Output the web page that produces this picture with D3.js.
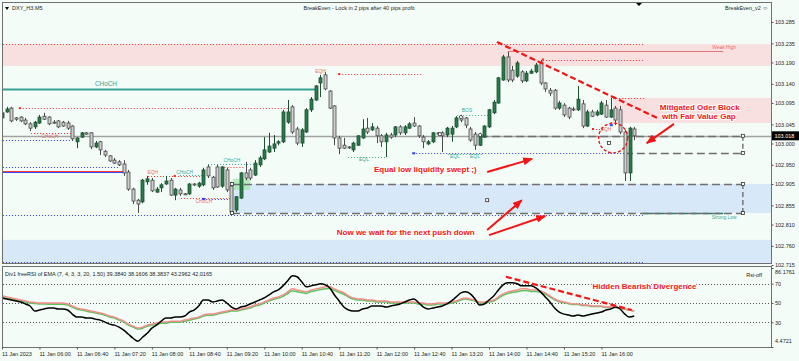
<!DOCTYPE html>
<html>
<head>
  <meta charset="utf-8">
  <title>DXY_H3.M5</title>
  <script src="https://d3js.org/d3.v7.min.js"></script>
<style type="text/css">
body {
  margin: 0;
  background: #f3fcf7;
}
svg text {
  font-family: "Liberation Sans", Arial, sans-serif;
}
.lbl { font-size: 5.5px; fill: #1e1e1e; }
.note {
  font-size: 8px;
  font-weight: bold;
  fill: #f41414;
  stroke: #ffffff;
  stroke-width: 2.2px;
  paint-order: stroke;
  stroke-linejoin: round;
}
</style>
</head>
<body>
<svg id="chart" width="799" height="361"></svg>
<script type="text/javascript">

// ---- DATA ----
const timeLabels = ["11 Jan 2023", "11 Jan 06:00", "11 Jan 06:40", "11 Jan 07:20", "11 Jan 08:00",
  "11 Jan 08:40", "11 Jan 09:20", "11 Jan 10:00", "11 Jan 10:40", "11 Jan 11:20", "11 Jan 12:00",
  "11 Jan 12:40", "11 Jan 13:20", "11 Jan 14:00", "11 Jan 14:40", "11 Jan 15:20", "11 Jan 16:00"];

const priceTicks = [103.285, 103.235, 103.190, 103.140, 103.095, 103.045, 103.000,
  102.950, 102.905, 102.855, 102.810, 102.760, 102.715];

const rsiTicks = [86.1761, 70, 50, 30, 4.4721];
const rsiLevels = [70, 50, 30];
const bid = 103.018;

// open, high, low, close (M5 bars from 05:20)
const ohlc = [
[103.060,103.076,103.055,103.072],[103.074,103.086,103.072,103.081],[103.083,103.086,103.050,103.053],
[103.060,103.062,103.053,103.057],[103.062,103.064,103.050,103.053],[103.055,103.060,103.043,103.046],
[103.046,103.050,103.029,103.036],[103.039,103.053,103.034,103.050],[103.048,103.067,103.046,103.062],
[103.064,103.072,103.055,103.057],[103.062,103.064,103.043,103.046],[103.050,103.055,103.046,103.049],
[103.053,103.055,103.036,103.039],[103.050,103.053,103.039,103.041],[103.048,103.053,103.032,103.036],
[103.041,103.043,103.006,103.011],[103.004,103.015,102.989,103.013],[103.015,103.027,103.013,103.025],
[103.025,103.027,103.020,103.022],[103.025,103.027,102.987,102.992],[102.992,103.006,102.989,103.001],
[103.004,103.006,102.973,102.985],[102.982,102.985,102.968,102.973],[102.971,102.973,102.957,102.959],
[102.961,102.966,102.952,102.954],[102.957,102.961,102.947,102.950],[102.952,102.961,102.924,102.931],
[102.933,102.938,102.889,102.893],[102.893,102.896,102.858,102.865],[102.867,102.870,102.837,102.858],
[102.863,102.917,102.860,102.914],[102.910,102.924,102.903,102.917],[102.914,102.919,102.886,102.889],
[102.886,102.898,102.884,102.893],[102.896,102.907,102.886,102.903],[102.905,102.924,102.903,102.912],
[102.914,102.919,102.877,102.879],[102.879,102.896,102.867,102.893],[102.891,102.896,102.877,102.882],
[102.882,102.884,102.879,102.881],[102.882,102.907,102.879,102.905],[102.905,102.907,102.900,102.904],
[102.900,102.910,102.896,102.907],[102.903,102.943,102.900,102.938],[102.945,102.950,102.919,102.924],
[102.921,102.924,102.891,102.896],[102.945,102.950,102.896,102.898],[102.900,102.947,102.896,102.945],
[102.938,102.943,102.886,102.891],[102.900,102.910,102.832,102.839],[102.844,102.877,102.839,102.875],
[102.872,102.933,102.870,102.931],[102.931,102.957,102.914,102.919],[102.938,102.943,102.914,102.919],
[102.926,102.961,102.924,102.954],[102.950,102.971,102.945,102.966],[102.964,103.015,102.961,102.985],
[102.980,103.025,102.978,102.994],[102.989,103.020,102.980,102.999],[103.001,103.008,102.996,103.004],
[103.004,103.079,103.001,103.074],[103.050,103.102,103.046,103.074],[103.086,103.090,103.022,103.027],
[103.034,103.039,102.996,103.001],[103.001,103.036,102.992,103.032],[103.027,103.083,103.025,103.079],
[103.079,103.109,103.074,103.104],[103.102,103.137,103.100,103.135],[103.142,103.161,103.109,103.154],
[103.161,103.168,103.125,103.128],[103.123,103.125,103.081,103.083],[103.088,103.090,102.996,103.013],
[103.013,103.018,102.975,102.989],[102.996,103.013,102.987,102.989],[102.992,102.994,102.987,102.990],
[102.985,103.004,102.980,103.001],[102.996,103.020,102.994,103.018],[103.013,103.057,103.011,103.034],
[103.036,103.060,103.022,103.027],[103.032,103.048,103.029,103.039],[103.036,103.041,103.001,103.018],
[103.018,103.022,102.992,103.004],[103.004,103.025,102.968,103.020],[103.020,103.025,103.011,103.015],
[103.020,103.041,103.015,103.039],[103.039,103.043,103.020,103.025],[103.025,103.043,103.020,103.039],
[103.036,103.050,103.034,103.046],[103.048,103.062,103.039,103.041],[103.041,103.043,103.013,103.018],
[103.015,103.020,102.989,103.004],[102.999,103.008,102.996,103.004],[103.004,103.027,103.001,103.025],
[103.025,103.027,103.018,103.022],[103.025,103.029,102.980,103.018],[103.020,103.039,103.015,103.036],
[103.022,103.041,103.004,103.036],[103.039,103.064,103.036,103.060],[103.062,103.067,103.050,103.055],
[103.060,103.062,103.036,103.043],[103.034,103.039,103.004,103.008],[103.022,103.027,102.985,102.996],
[102.996,103.025,102.994,103.020],[103.015,103.043,103.013,103.041],[103.039,103.081,103.036,103.079],
[103.072,103.102,103.069,103.097],[103.095,103.156,103.093,103.154],[103.149,103.208,103.147,103.203],
[103.203,103.215,103.144,103.149],[103.172,103.182,103.144,103.149],[103.158,103.194,103.154,103.189],
[103.168,103.172,103.142,103.147],[103.147,103.170,103.144,103.165],[103.165,103.175,103.163,103.170],
[103.168,103.189,103.165,103.184],[103.191,103.196,103.137,103.142],[103.142,103.144,103.121,103.128],
[103.125,103.130,103.111,103.118],[103.125,103.128,103.079,103.083],[103.083,103.100,103.079,103.095],
[103.090,103.095,103.062,103.067],[103.083,103.086,103.057,103.062],[103.081,103.086,103.076,103.080],
[103.079,103.135,103.076,103.104],[103.093,103.102,103.036,103.041],[103.041,103.079,103.039,103.074],
[103.074,103.079,103.062,103.064],[103.067,103.079,103.064,103.074],[103.069,103.100,103.067,103.095],
[103.090,103.102,103.060,103.062],[103.062,103.107,103.060,103.079],[103.083,103.088,103.043,103.055],
[103.079,103.088,103.022,103.027],[103.027,103.032,102.912,102.931],[102.931,103.039,102.912,103.036],
[103.034,103.039,103.008,103.018]
];

// freeRSI buffers
const rsiMain = [55.2,54.2,53.1,52.1,51.0,49.0,46.9,41.7,42.7,43.8,
  44.8,44.8,43.8,43.8,42.7,38.5,35.4,35.4,34.4,34.4,
  33.3,32.3,30.2,28.1,27.1,25.0,21.9,17.7,13.5,10.4,
  14.6,18.7,24.0,27.1,31.2,34.4,34.4,35.4,35.4,36.5,
  40.6,42.7,46.9,53.1,53.1,51.0,52.1,53.1,50.0,45.8,
  43.8,45.8,46.9,49.0,51.0,53.1,55.2,58.3,61.5,63.5,
  67.7,72.9,78.1,77.1,71.9,66.7,67.7,68.8,69.8,68.8,
  65.6,58.3,52.1,45.8,42.7,41.7,41.7,43.8,44.8,46.9,
  46.9,46.9,45.8,46.9,47.9,49.0,51.0,53.1,54.2,50.0,
  45.8,43.8,44.8,45.8,46.9,49.0,52.1,56.3,60.4,61.5,
  59.4,54.2,47.9,49.0,53.1,57.3,63.5,68.8,70.8,70.8,
  69.8,67.7,67.7,67.7,65.6,61.5,56.3,51.0,44.8,40.6,
  38.5,37.5,36.5,37.5,36.5,37.5,38.5,39.6,40.6,42.7,
  43.8,45.8,43.8,38.5,35.4,36.5];

const rsiSignal = [57.3,56.3,55.2,54.2,53.1,52.1,51.0,50.5,50.0,50.0,
  50.0,50.0,50.0,50.0,49.0,46.9,44.8,43.8,42.7,41.7,
  40.6,39.6,38.5,36.5,35.4,33.3,31.2,28.1,26.0,24.0,
  25.0,27.1,28.1,29.2,30.2,30.2,31.2,31.2,31.2,32.3,
  33.3,34.4,35.4,37.5,38.5,38.5,39.6,40.6,41.7,42.7,
  42.7,43.8,44.8,45.8,47.9,49.0,51.0,53.1,55.2,56.3,
  58.3,61.5,64.6,63.5,62.5,61.5,63.5,64.6,65.6,66.7,
  66.7,64.6,62.5,60.4,57.3,55.2,54.2,54.2,53.1,53.1,
  52.1,52.1,52.1,51.0,51.0,51.0,51.0,51.0,51.0,50.0,
  50.0,49.0,49.0,50.0,50.0,50.0,51.0,52.1,54.2,55.2,
  54.2,53.1,51.0,51.0,52.1,53.1,56.3,59.4,61.5,62.5,
  63.5,64.6,64.6,63.5,63.5,62.5,60.4,57.3,54.2,52.1,
  51.0,50.0,49.0,49.0,47.9,47.9,46.9,46.9,46.9,45.8,
  45.8,45.8,44.8,43.8,42.7,41.7];

const rsiSlow = [56.0,55.2,54.2,53.1,52.1,51.0,50.0,49.4,49.0,48.9,
  48.8,48.8,48.8,48.8,47.8,45.7,43.6,42.6,41.6,40.6,
  39.5,38.5,37.4,35.4,34.3,32.3,30.2,27.1,25.0,23.0,
  23.9,26.0,27.1,28.1,29.1,29.1,30.1,30.1,30.1,31.2,
  32.2,33.3,34.3,36.4,37.4,37.4,38.5,39.5,40.6,41.6,
  41.6,42.7,43.7,44.7,46.8,47.8,49.8,51.9,53.9,55.0,
  56.9,59.8,62.7,61.7,60.8,59.9,61.8,62.8,63.8,64.8,
  64.9,63.0,61.0,59.0,56.1,54.1,53.1,53.0,52.0,52.0,
  51.0,51.0,51.0,50.0,50.0,50.0,50.0,50.0,50.0,49.0,
  49.0,48.0,48.0,49.0,49.0,49.0,50.0,51.0,53.0,54.0,
  53.1,52.1,50.1,50.0,51.0,52.0,55.0,57.9,59.8,60.8,
  61.7,62.7,62.8,62.0,62.0,61.1,59.2,56.3,53.3,51.3,
  50.2,49.3,48.4,48.4,47.4,47.4,46.4,46.4,46.4,45.4,
  45.4,45.4,44.5,43.5,42.6,41.7];

// zones: bar from, bar to, price top, price bottom, kind
const zones = [
  [-3, 170, 103.233, 103.182, 'supply'],
  [130.5, 170, 103.107, 103.048, 'supply'],
  [49.1, 170, 102.905, 102.837, 'demand'],
  [-3, 170, 102.774, 102.700, 'demand'],
  [49.3, 53, 102.917, 102.891, 'fvg']
];

// horizontal levels: bar from, bar to, price, kind
const levels = [
  [-3, 136.9, 103.233, 'redDot'],
  [-3, 67, 103.128, 'choch'],
  [3.8, 61.5, 103.083, 'redDot'],
  [72, 89.7, 103.163, 'redDot'],
  [115.5, 136.9, 103.197, 'redDot'],
  [130.5, 137.3, 103.107, 'redDot'],
  [108, 154, 103.217, 'weak'],
  [6.2, 15.2, 103.025, 'redDot'],
  [-3, 15.6, 103.008, 'blueDot'],
  [-3, 25.2, 102.945, 'blueDot'],
  [-3, 26.3, 102.936, 'redLine'],
  [-3, 26.3, 102.933, 'blueLine'],
  [31.2, 43.3, 102.924, 'redDot'],
  [38, 43.3, 102.927, 'tealDot'],
  [44, 55.1, 102.951, 'tealDot'],
  [47.5, 51.9, 102.945, 'redDot'],
  [38.2, 49.1, 102.873, 'redDot'],
  [42.9, 49.1, 102.870, 'blueDot'],
  [73.9, 82.2, 102.968, 'tealDot'],
  [87.8, 133, 102.977, 'blueDot'],
  [95.2, 102.5, 102.975, 'tealDot'],
  [97.2, 104.2, 103.067, 'tealDot'],
  [126.2, 128.8, 103.034, 'redDot'],
  [-3, 136.9, 102.832, 'blueDot'],
  [-3, 136.9, 102.721, 'blueDot'],
  [136.9, 154, 102.836, 'strong'],
  [102.1, 158.2, 103.018, 'grayDash'],
  [133, 158.2, 102.978, 'grayDash'],
  [49.1, 158.2, 102.905, 'grayDash'],
  [49.1, 158.2, 102.837, 'grayDash']
];

// vertical dashed legs: bar, price from, price to
const legs = [[158.2, 103.018, 102.978], [158.2, 102.905, 102.837]];

const squares = [[158.2, 103.018], [158.2, 102.978], [158.2, 102.905], [158.2, 102.837],
  [49.1, 102.905], [49.1, 102.837], [103.6, 102.867], [129.6, 103.001]];
const rings = [[93.5, 103.022], [98, 103.062], [102.1, 103.020]];
const redDots = [[3.8, 103.083], [72, 103.163], [115.5, 103.197], [36.9, 102.924], [126.2, 103.034]];
const blueDots = [[42.9, 102.870], [87.8, 102.977], [130, 103.043]];

// small labels: bar, price, text, kind
const labels = [
  [22.2, 103.134, 'CHoCH', 'chochBig'],
  [68, 103.166, 'EQH', 'red'],
  [10.2, 103.013, 'CHoCH', 'red'],
  [32.2, 102.928, 'EQH', 'red'],
  [39, 102.928, 'CHoCH', 'teal'],
  [49.1, 102.957, 'CHoCH', 'teal'],
  [43.1, 102.860, 'CHoCH', 'red'],
  [77.3, 102.959, 'EQL', 'teal'],
  [96.7, 102.966, 'EQL', 'teal'],
  [101, 102.966, 'EQL', 'teal'],
  [99.3, 103.073, 'BOS', 'teal'],
  [129, 103.029, 'EQH', 'red'],
  [154.2, 103.222, 'Weak High', 'red'],
  [154.2, 102.823, 'Strong Low', 'teal']
];

// notes on price pane: bar, price, text
const notes = [
  [149, 103.079, 'Mitigated Oder Block'],
  [148.8, 103.058, 'with Fair Value Gap'],
  [90.4, 102.933, 'Equal low liquidity swept ;)'],
  [86.2, 102.785, 'Now we wait for the next push down']
];
const arrows = [
  [143.5, 103.046, 137.7, 103.001],
  [103.6, 102.933, 113.2, 102.964],
  [103.6, 102.797, 111, 102.867],
  [104, 102.785, 116, 102.830]
];
const trendMain = [105.7, 103.238, 139.9, 103.060];
const trendRsi = [107.6, 77.1, 134.5, 42.7];
const circleObb = [130.5, 103.013, 3.1, 0.035];

// ---- LAYOUT ----
const xL = 3, xR = 771, mainTop = 3, mainBot = 263, rsiTop = 267, rsiBot = 347;
const svg = d3.select('#chart');

let x = d3.scaleLinear().domain([0, ohlc.length - 1]).range([2, 2 + (ohlc.length - 1) * 4.683]);
let y = d3.scaleLinear().domain([102.715, 103.285]).range([265, 22]);
let yr = d3.scaleLinear().domain([4.4721, 86.1761]).range([347, 268]);

svg.append('rect').attr('width', 799).attr('height', 361).attr('fill', '#f3fcf7');

let defs = svg.append('defs');
defs.append('clipPath').attr('id', 'clipMain').append('rect')
  .attr('x', xL).attr('y', mainTop).attr('width', xR - xL).attr('height', mainBot - mainTop);
defs.append('clipPath').attr('id', 'clipRsi').append('rect')
  .attr('x', xL).attr('y', rsiTop).attr('width', xR - xL).attr('height', rsiBot - rsiTop);
defs.append('marker').attr('id', 'head')
  .attr('markerUnits', 'userSpaceOnUse')
  .attr('markerWidth', 10).attr('markerHeight', 8)
  .attr('refX', 9).attr('refY', 4).attr('orient', 'auto')
  .append('path').attr('d', 'M0,0 L10,4 L0,8 z').attr('fill', '#f41414');

const main = svg.append('g').attr('clip-path', 'url(#clipMain)');

// zones
const zoneFill = { supply: '#f8e0e0', demand: '#d7e8f8', fvg: '#a9e6ad' };
main.selectAll('rect.zone').data(zones).enter().append('rect')
  .attr('class', 'zone')
  .attr('x', d => x(d[0]))
  .attr('y', d => y(d[2]))
  .attr('width', d => x(d[1]) - x(d[0]))
  .attr('height', d => y(d[3]) - y(d[2]))
  .attr('fill', d => zoneFill[d[4]])
  .attr('opacity', d => d[4] === 'fvg' ? 0.8 : 1);

// bid line
main.append('line')
  .attr('x1', xL).attr('x2', xR)
  .attr('y1', Math.round(y(bid)) + 0.5).attr('y2', Math.round(y(bid)) + 0.5)
  .attr('stroke', '#a2a2a2').attr('stroke-width', 1.6);

// levels
const levelStyle = {
  redDot: ['#ff2e2e', 1, '1,2'],
  blueDot: ['#2f3cff', 1, '1,2'],
  tealDot: ['#3aa898', 1, '1,2'],
  choch: ['#36a192', 2, null],
  weak: ['#e27878', 1.2, null],
  redLine: ['#ff3a3a', 1, null],
  blueLine: ['#3a44ff', 1.2, null],
  strong: ['#2e7a66', 1.4, '9,3'],
  grayDash: ['#6f6f6f', 1.6, '8,4']
};
main.selectAll('line.level').data(levels).enter().append('line')
  .attr('class', 'level')
  .attr('x1', d => x(d[0])).attr('x2', d => x(d[1]))
  .attr('y1', d => Math.round(y(d[2])) + 0.5).attr('y2', d => Math.round(y(d[2])) + 0.5)
  .attr('stroke', d => levelStyle[d[3]][0])
  .attr('stroke-width', d => levelStyle[d[3]][1])
  .attr('stroke-dasharray', d => levelStyle[d[3]][2]);

main.selectAll('line.leg').data(legs).enter().append('line')
  .attr('x1', d => x(d[0])).attr('x2', d => x(d[0]))
  .attr('y1', d => y(d[1])).attr('y2', d => y(d[2]))
  .attr('stroke', '#6f6f6f').attr('stroke-width', 1.4).attr('stroke-dasharray', '5,3');

// candles
const candle = main.selectAll('g.candle').data(ohlc).enter().append('g').attr('class', 'candle');
candle.append('line')
  .attr('x1', (d, i) => Math.round(x(i)) + 0.5).attr('x2', (d, i) => Math.round(x(i)) + 0.5)
  .attr('y1', d => y(d[1])).attr('y2', d => y(d[2]))
  .attr('stroke', d => d[3] >= d[0] ? '#1d4f30' : '#4a4a4a').attr('stroke-width', 1);
candle.append('rect')
  .attr('x', (d, i) => Math.round(x(i)) - 1)
  .attr('y', d => y(Math.max(d[0], d[3])))
  .attr('width', 3)
  .attr('height', d => Math.max(1, Math.abs(y(d[0]) - y(d[3]))))
  .attr('fill', d => d[3] >= d[0] ? '#2a7a4a' : '#cfcfcf')
  .attr('stroke', d => d[3] >= d[0] ? '#1d4f30' : '#4a4a4a')
  .attr('stroke-width', 0.8);

// markers
main.selectAll('rect.sq').data(squares).enter().append('rect')
  .attr('x', d => x(d[0]) - 1.5).attr('y', d => y(d[1]) - 1.5)
  .attr('width', 3).attr('height', 3)
  .attr('fill', '#fff').attr('stroke', '#333').attr('stroke-width', 0.8);
main.selectAll('circle.ring').data(rings).enter().append('circle')
  .attr('cx', d => x(d[0])).attr('cy', d => y(d[1])).attr('r', 1.6)
  .attr('fill', '#fff').attr('stroke', '#333').attr('stroke-width', 0.8);
main.selectAll('rect.rd').data(redDots).enter().append('rect')
  .attr('x', d => x(d[0]) - 1).attr('y', d => y(d[1]) - 1)
  .attr('width', 2).attr('height', 2).attr('fill', '#ff2020');
main.selectAll('rect.bd').data(blueDots).enter().append('rect')
  .attr('x', d => x(d[0]) - 1).attr('y', d => y(d[1]) - 1)
  .attr('width', 3).attr('height', 2).attr('fill', '#2f3cff');

// small labels
const labelStyle = {
  chochBig: ['#36a192', 6.4],
  red: ['#ee6a6a', 4.9],
  teal: ['#3aa898', 4.9]
};
main.selectAll('text.tag').data(labels).enter().append('text')
  .attr('x', d => x(d[0])).attr('y', d => y(d[1]))
  .attr('text-anchor', 'middle')
  .attr('fill', d => labelStyle[d[3]][0])
  .style('font-size', d => labelStyle[d[3]][1] + 'px')
  .text(d => d[2]);

// trend line, circle, arrows, notes
main.append('line')
  .attr('x1', x(trendMain[0])).attr('y1', y(trendMain[1]))
  .attr('x2', x(trendMain[2])).attr('y2', y(trendMain[3]))
  .attr('stroke', '#f41414').attr('stroke-width', 2.2).attr('stroke-dasharray', '6,3');

main.append('ellipse')
  .attr('cx', x(circleObb[0])).attr('cy', y(circleObb[1]))
  .attr('rx', x(circleObb[0] + circleObb[2]) - x(circleObb[0]))
  .attr('ry', y(circleObb[1] - circleObb[3]) - y(circleObb[1]))
  .attr('fill', 'none').attr('stroke', '#f41414').attr('stroke-width', 1.4)
  .attr('stroke-dasharray', '3,2');

main.selectAll('line.arrow').data(arrows).enter().append('line')
  .attr('x1', d => x(d[0])).attr('y1', d => y(d[1]))
  .attr('x2', d => x(d[2])).attr('y2', d => y(d[3]))
  .attr('stroke', '#f41414').attr('stroke-width', 2)
  .attr('marker-end', 'url(#head)');

main.selectAll('text.note').data(notes).enter().append('text')
  .attr('class', 'note')
  .attr('x', d => x(d[0])).attr('y', d => y(d[1]))
  .attr('text-anchor', 'middle')
  .text(d => d[2]);

// ---- RSI PANE ----
const rsi = svg.append('g').attr('clip-path', 'url(#clipRsi)');
rsi.selectAll('line.lvl').data(rsiLevels).enter().append('line')
  .attr('x1', xL).attr('x2', xR)
  .attr('y1', d => Math.round(yr(d)) + 0.5).attr('y2', d => Math.round(yr(d)) + 0.5)
  .attr('stroke', '#555').attr('stroke-width', 1).attr('stroke-dasharray', '1,2');

const rsiPath = d3.line().x((d, i) => x(i)).y(d => yr(d)).curve(d3.curveMonotoneX);
[[rsiSlow, '#5cc25c'], [rsiSignal, '#f58c8c'], [rsiMain, '#000000']].forEach(s => {
  rsi.append('path').datum(s[0])
    .attr('d', rsiPath)
    .attr('fill', 'none')
    .attr('stroke', s[1])
    .attr('stroke-width', 1.5);
});

rsi.append('line')
  .attr('x1', x(trendRsi[0])).attr('y1', yr(trendRsi[1]))
  .attr('x2', x(trendRsi[2])).attr('y2', yr(trendRsi[3]))
  .attr('stroke', '#f41414').attr('stroke-width', 2.2).attr('stroke-dasharray', '6,3');

rsi.append('text').attr('class', 'note')
  .attr('x', x(137.2)).attr('y', yr(64.6))
  .attr('text-anchor', 'middle')
  .text('Hidden Bearish Divergence');

svg.append('text').attr('class', 'lbl').attr('x', 5).attr('y', 276)
  .text('Div1 freeRSI of EMA (7, 4, 3, 3, 20, 1.50) 39.3840 38.1606 38.3837 43.2962 42.0165');
svg.append('text').attr('class', 'lbl').attr('x', 762).attr('y', 277)
  .attr('text-anchor', 'end').text('Rsi-off');

// ---- FRAMES ----
svg.append('rect').attr('x', 2.5).attr('y', 2.5).attr('width', xR - 2).attr('height', mainBot - 2)
  .attr('fill', 'none').attr('stroke', '#707070');
svg.append('rect').attr('x', 2.5).attr('y', rsiTop - 0.5).attr('width', xR - 2).attr('height', rsiBot - rsiTop + 1)
  .attr('fill', 'none').attr('stroke', '#707070');

// ---- AXES ----
let yAxis = d3.axisRight(y).tickValues(priceTicks).tickFormat(d3.format('.3f')).tickSize(2).tickPadding(1.5);
let gy = svg.append('g').attr('transform', 'translate(' + (xR + 0.5) + ',0)').call(yAxis);
gy.select('.domain').remove();
gy.selectAll('text').attr('class', 'lbl').attr('font-family', null).attr('font-size', null);
gy.selectAll('line').attr('stroke', '#555');

// bid label
svg.append('rect').attr('x', xR + 1).attr('y', y(bid) - 4.5).attr('width', 27).attr('height', 9).attr('fill', '#000');
svg.append('text').attr('class', 'lbl').attr('x', xR + 3.5).attr('y', y(bid) + 2)
  .style('fill', '#fff').text(d3.format('.3f')(bid));

let rAxis = d3.axisRight(yr).tickValues(rsiTicks).tickFormat(d => d % 1 ? d3.format('.4f')(d) : d).tickSize(2).tickPadding(1.5);
let gr = svg.append('g').attr('transform', 'translate(' + (xR + 0.5) + ',0)').call(rAxis);
gr.select('.domain').remove();
gr.selectAll('text').attr('class', 'lbl').attr('font-family', null).attr('font-size', null)
  .attr('dy', (d, i) => i === 0 ? '1em' : (i === rsiTicks.length - 1 ? '-0.9em' : '0.32em'));
gr.selectAll('line').attr('stroke', '#555');

let xAxis = d3.axisBottom(x).tickValues(d3.range(0, ohlc.length, 8))
  .tickFormat((d, i) => timeLabels[i]).tickSize(2).tickPadding(3);
let gx = svg.append('g').attr('transform', 'translate(0,' + (rsiBot + 0.5) + ')').call(xAxis);
gx.select('.domain').remove();
gx.selectAll('text').attr('class', 'lbl').attr('font-family', null).attr('font-size', null)
  .attr('text-anchor', 'start').attr('dx', -0.5);
gx.selectAll('line').attr('stroke', '#555');

// ---- HEADER ----
svg.append('path').attr('d', 'M5,7 L9,7 L7,10 z').attr('fill', '#000');
svg.append('text').attr('class', 'lbl').attr('x', 12).attr('y', 10).text('DXY_H3.M5');
svg.append('text').attr('class', 'lbl').attr('x', 359).attr('y', 10).attr('text-anchor', 'middle')
  .text('BreakEven - Lock in 2 pips after 40 pips profit');
svg.append('text').attr('class', 'lbl').attr('x', 768).attr('y', 10).attr('text-anchor', 'end')
  .text('BreakEven_v2 \u263A');
svg.append('path').attr('d', 'M636,3 L642,3 L639,6 z').attr('fill', '#000');

</script>
</body>
</html>
